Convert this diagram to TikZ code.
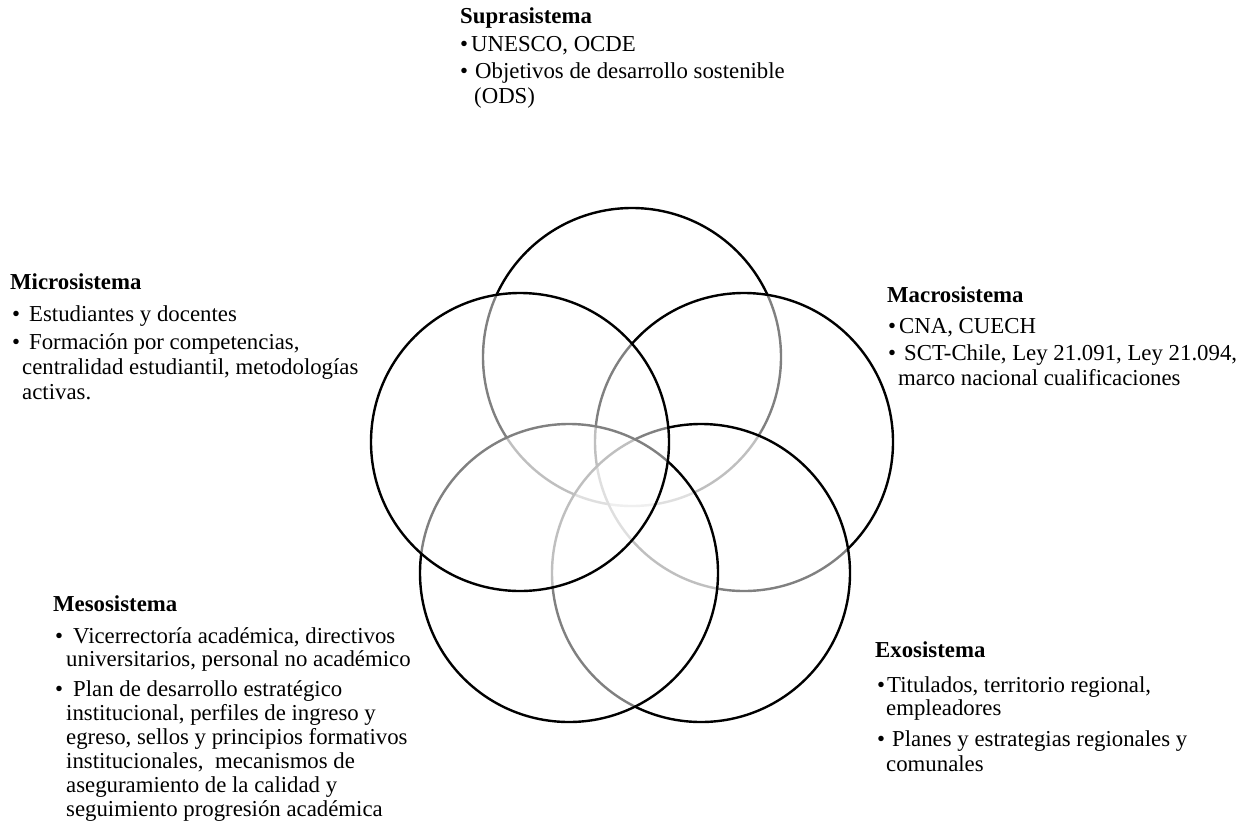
\documentclass[tikz,border=0pt]{standalone}
\usepackage{fontspec}
\setmainfont{Liberation Serif}
\tikzset{
  ring/.style={circle, draw=black, line width=2.4pt, fill=white, fill opacity=0.5, draw opacity=1, minimum size=298pt, inner sep=0pt},
  txt/.style={anchor=base west, inner sep=0pt, font=\fontsize{22.8}{25}\selectfont},
  hd/.style={txt, font=\fontsize{22.8}{25}\selectfont\bfseries}
}
\newcommand{\bl}[1]{\textbullet\hspace{#1pt}}
\begin{document}
\begin{tikzpicture}[x=1pt,y=-1pt]
\useasboundingbox (0,0) rectangle (1260,825);
% circles (drawing order gives the layered look)
\node[ring] (ctop) at (632,357) {};
\node[ring] (cright) at (744,442) {};
\node[ring] (cbr) at (701,573) {};
\node[ring] (cbl) at (569,573) {};
\node[ring] (cleft) at (520,442) {};
% Suprasistema
\node[hd] (s0) at (460,23) {Suprasistema};
\node[txt] (s1) at (460,51) {\bl{3}UNESCO, OCDE};
\node[txt] (s2) at (460,78) {\bl{7}Objetivos de desarrollo sostenible};
\node[txt] (s3) at (474,103) {(ODS)};
% Microsistema
\node[hd] (m0) at (10,289) {Microsistema};
\node[txt] (m1) at (12,321) {\bl{9}Estudiantes y docentes};
\node[txt] (m2) at (12,349) {\bl{9}Formación por competencias,};
\node[txt] (m3) at (22,374) {centralidad estudiantil, metodologías};
\node[txt] (m4) at (22,399) {activas.};
% Macrosistema
\node[hd] (a0) at (887,302) {Macrosistema};
\node[txt] (a1) at (888,333) {\bl{3}CNA, CUECH};
\node[txt] (a2) at (888,360) {\bl{8}SCT-Chile, Ley 21.091, Ley 21.094,};
\node[txt] (a3) at (898,385) {marco nacional cualificaciones};
% Mesosistema
\node[hd] (e0) at (53,611) {Mesosistema};
\node[txt] (e1) at (55,643) {\bl{10}Vicerrectoría académica, directivos};
\node[txt] (e2) at (66,666) {universitarios, personal no académico};
\node[txt] (e3) at (55,696) {\bl{10}Plan de desarrollo estratégico};
\node[txt] (e4) at (66,720) {institucional, perfiles de ingreso y};
\node[txt] (e5) at (66,744) {egreso, sellos y principios formativos};
\node[txt] (e6) at (66,768) {institucionales,\ \ mecanismos de};
\node[txt] (e7) at (66,792) {aseguramiento de la calidad y};
\node[txt] (e8) at (66,816) {seguimiento progresión académica};
% Exosistema
\node[hd] (x0) at (875,657) {Exosistema};
\node[txt] (x1) at (877,692) {\bl{2}Titulados, territorio regional,};
\node[txt] (x2) at (886,715) {empleadores};
\node[txt] (x3) at (877,746) {\bl{7}Planes y estrategias regionales y};
\node[txt] (x4) at (886,771) {comunales};
\end{tikzpicture}
\end{document}
